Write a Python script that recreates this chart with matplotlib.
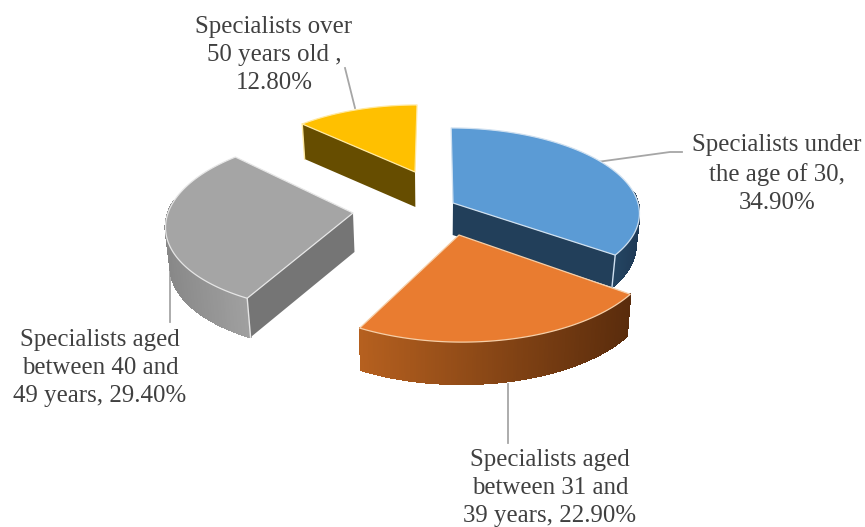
import numpy as np
import matplotlib
matplotlib.use("Agg")
import matplotlib.pyplot as plt
from matplotlib.collections import PolyCollection
from matplotlib.colors import LinearSegmentedColormap
from matplotlib.patches import Polygon

plt.rcParams['font.family'] = ['Liberation Serif', 'DejaVu Serif']

# data
categories = ["Specialists under\nthe age of 30,\n34.90%",
              "Specialists aged\nbetween 31 and\n39 years, 22.90%",
              "Specialists aged\nbetween 40 and\n49 years, 29.40%",
              "Specialists over\n50 years old ,\n12.80%"]
values = [34.9, 22.9, 29.4, 12.8]

# ---------------- layout of the fake 3d pie ----------------
apex = [(453, 203), (459, 235), (353, 213), (415, 172)]
radius_x = [185, 195, 185, 171]
radius_y = [83.5, 95, 87, 74.6]
depth = [32, 42, 39, 35]
top_colors = ["#5b9bd5", "#e97c30", "#a5a5a5", "#ffc000"]
edge_colors = ["#cfe0f0", "#f6cfa8", "#e6e6e6", "#ffe9a0"]
face_colors = ["#223f5a", None, "#757575", "#664d00"]
arc_colors = [("#1f3a56", "#244562"), ("#b5601f", "#5a2c0c"),
              ("#888888", "#a0a0a0"), ("#664d00", "#664d00")]
# which straight cut shows on the front: 1 = end of slice, 0 = start of slice
cut_side = [1, None, 0, 0]
label_xy = [(777, 174), (550, 488), (100, 368), (274, 55)]
leaders = [[(575, 165), (670, 152), (682, 152)], [(508, 384), (508, 443)],
           [(170, 245), (170, 322)], [(345, 68), (355, 108)]]
draw_order = [3, 2, 0, 1]

VX = 435.0      # vanishing x
PERSP = 0.113


def project(i, t):
    """top-face point of slice i at clockwise angle t (radians from 12 o'clock)"""
    ax_, ay_ = apex[i]
    w = 1.0 / (1.0 + PERSP*np.cos(t))
    x = VX + (ax_ - VX + radius_x[i]*np.sin(t))*w
    y = ay_ - radius_y[i]*np.cos(t)*w
    return x, y


def drop(i, x, y):
    """same point on the lower rim"""
    return VX + (x - VX)*0.982, y + depth[i]


fig = plt.figure(figsize=(8.65, 5.27), dpi=100)
ax = fig.add_axes([0, 0, 1, 1])
ax.set_xlim(0, 865)
ax.set_ylim(527, 0)
ax.axis('off')

bounds = np.concatenate([[0], np.cumsum(values)]) / np.sum(values) * 2*np.pi

for pts in leaders:
    ax.plot([p[0] for p in pts], [p[1] for p in pts], color="#a6a6a6", lw=1.3, zorder=1)

for n, i in enumerate(draw_order):
    z = 2 + n
    t0, t1 = bounds[i], bounds[i+1]
    ts = np.linspace(t0, t1, 160)
    ax_, ay_ = apex[i]
    px, py = project(i, ts)

    # outer rim, only the part turned to the viewer
    keep = (ts > np.deg2rad(82)) & (ts < np.deg2rad(278))
    if keep.sum() > 1:
        rx, ry = px[keep], py[keep]
        bx, by = drop(i, rx, ry)
        quads = [[(rx[k], ry[k]), (rx[k+1], ry[k+1]), (bx[k+1], by[k+1]), (bx[k], by[k])]
                 for k in range(len(rx)-1)]
        cmap = LinearSegmentedColormap.from_list("rim", arc_colors[i])
        s = (rx[:-1] - rx.min()) / max(rx.max() - rx.min(), 1)
        if i == 0:
            s = 1 - s
        ax.add_collection(PolyCollection(quads, facecolors=cmap(s), edgecolors=cmap(s),
                                         linewidths=0.8, antialiaseds=False, zorder=z))

    # straight cut face
    if cut_side[i] is not None:
        t_cut = t1 if cut_side[i] == 1 else t0
        cx, cy = project(i, t_cut)
        dx, dy = drop(i, cx, cy)
        ax0, ay0 = drop(i, ax_, ay_)
        ax.add_patch(Polygon([(ax_, ay_), (cx, cy), (dx, dy), (ax0, ay0)],
                             closed=True, facecolor=face_colors[i],
                             edgecolor="none", zorder=z))
        ax.plot([cx, dx], [cy, dy], color=edge_colors[i], lw=1.0, zorder=z)

    # top face
    xs = np.concatenate([[ax_], px])
    ys = np.concatenate([[ay_], py])
    ax.add_patch(Polygon(np.column_stack([xs, ys]), closed=True,
                         facecolor=top_colors[i], edgecolor=edge_colors[i],
                         lw=0.9, joinstyle="round", zorder=z+0.1))

for lab, (lx, ly) in zip(categories, label_xy):
    ax.text(lx, ly, lab, ha="center", va="center", fontsize=17.95,
            color="#404040", linespacing=1.37, zorder=20)

plt.savefig("out.png", dpi=100, facecolor="white")
